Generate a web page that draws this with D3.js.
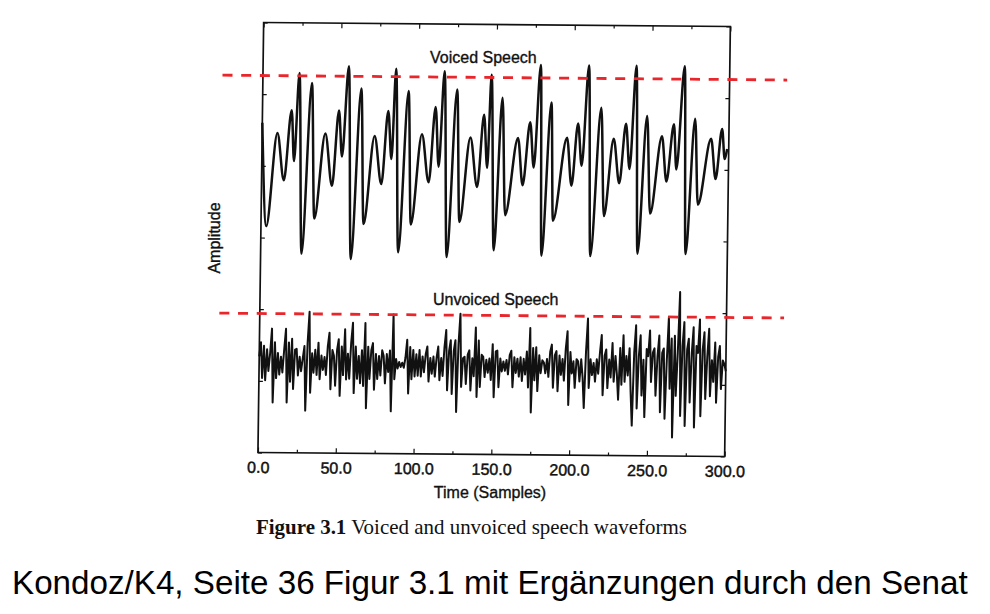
<!DOCTYPE html>
<html><head><meta charset="utf-8">
<script src="https://cdn.jsdelivr.net/npm/d3@7"></script>
<style>
html,body{margin:0;padding:0;background:#fff;}
svg{display:block;}
</style></head><body>
<svg id="chart" width="990" height="614"></svg>
<script>
// ---------- data ----------
const xTicks = [0, 50, 100, 150, 200, 250, 300];
const xMinorTicks = [25, 75, 125, 175, 225, 275];
const yTicks = [0, 100, 200, 300, 400, 500, 600];
const seriesNames = ["Voiced Speech", "Unvoiced Speech"];
const seriesOffsets = [411, 124];           // baseline of each trace (amplitude units)
const refLevels = [115, 70];                // red dashed level above each baseline
const refExtent = [-26, 337];               // samples covered by the red lines

// voiced speech: turning points (sample, amplitude)
const voicedSamples = [
  0, 3.4, 9.8, 14.3, 18.8, 20.7,
  23.5, 26.3, 31.6, 34.2, 40.6, 45.3, 49.2, 51.5,
  55.2, 58.0, 63.4, 65.9, 72.3, 77.0, 80.9, 83.3,
  85.6, 88.4, 93.8, 96.3, 102.7, 107.4, 111.3, 113.7,
  116.8, 119.6, 125.0, 127.5, 133.9, 138.6, 142.5, 144.9,
  147.0, 149.8, 154.2, 156.8, 164.5, 167.8, 172.2, 174.8,
  178.6, 180.5, 185.7, 187.6, 196.0, 199.2, 203.0, 205.6,
  209.6, 211.9, 217.8, 220.3, 226.0, 229.9, 233.8, 236.4,
  240.1, 242.2, 247.3, 250.0, 257.0, 260.2, 264.6, 266.5,
  271.1, 273.1, 278.2, 280.6, 288.6, 291.8, 295.6, 297.5, 299
];
const voicedValues = [
  49, -95, 35, -31, 67, -4,
  119, -133, 105, -84, 35, -38, 67, 3,
  129, -140, 98, -91, 32, -35, 67, 0,
  126, -130, 95, -91, 35, -32, 73, -10,
  123, -136, 98, -87, 31, -38, 63, -11,
  119, -126, 87, -77, 31, -35, 53, -10,
  133, -133, 81, -84, 32, -35, 52, -7,
  133, -133, 74, -77, 31, -31, 52, -11,
  133, -129, 63, -73, 35, -28, 52, -11,
  133, -129, 60, -60, 32, -24, 46, 4, 18
];

// unvoiced speech: one value per sample, 0..300
const unvoicedValues = [
  10, 30, -20, 25, -23, 20, -10, 15, 49, -54,
  30, -20, 15, -15, 10, -12, 20, 49, -54, 30,
  -25, 35, -35, 20, 21, -16, 10, -10, 8, 25,
  -65, 30, 73, -40, 15, -12, 20, -15, 30, -21,
  12, -8, 10, -15, 25, 44, -35, 20, 12, -30,
  20, 35, -44, 25, -15, 49, -21, 15, -20, 30,
  58, -40, 25, -20, 12, -26, 20, -30, 58, -61,
  25, -20, 20, 30, -35, 15, -20, 12, -15, 20,
  12, -26, 15, -10, 20, -65, 70, -20, 8, -5,
  4, -3, 3, -4, 10, 35, -40, 25, -20, 21,
  -16, 15, -15, 21, -16, 12, -10, 15, 26, -23,
  10, -12, 12, -16, 10, 26, -21, 10, -15, 25,
  49, -35, 20, 35, -40, 20, 35, -65, 30, 72,
  -30, 10, 12, -26, 15, 21, -35, 10, -15, 53,
  -44, 35, -30, 15, 12, -16, 8, -10, 10, -20,
  30, -44, 20, 21, -30, 10, -8, 6, -7, 8,
  -12, 15, 21, -30, 12, -10, 10, -15, 12, -21,
  10, -12, 20, -30, 53, -65, 25, -20, 26, -35,
  15, -10, 8, 5, -10, 10, -15, 20, 30, -30,
  15, 21, -35, 15, -12, 10, -20, 25, 49, -54,
  20, -10, 7, -30, 10, 7, -21, 10, -15, -58,
  20, 67, -30, 10, -12, 5, -21, 10, -10, 20,
  44, -40, 15, 24, -30, 10, -15, 33, -21, 15,
  -10, -46, 26, -25, 44, -21, 15, -12, 26, -35,
  -82, 20, 58, -58, 15, 44, -40, 10, -70, 25,
  15, 51, -21, 20, 26, -40, 15, 44, -63, 20,
  26, -72, 10, 70, -30, 40, -98, 44, -40, 20,
  105, -68, 30, 63, -82, 25, 40, -49, 20, 56,
  -84, 30, 20, 67, -68, 25, 49, -44, 15, 54,
  -40, 10, -20, 35, -49, 15, 30, -30, 10, 5,
  -5
];

const xLabel = "Time (Samples)";
const yLabel = "Amplitude";
const captionBold = "Figure 3.1";
const captionText = " Voiced and unvoiced speech waveforms";
const footnote = "Kondoz/K4, Seite 36 Figur 3.1 mit Ergänzungen durch den Senat";

// ---------- drawing ----------
const svg = d3.select("#chart");
const W = 466.7, H = 430;
const sans = "'Liberation Sans', Arial, Helvetica, sans-serif";
const serif = "'Liberation Serif', 'Times New Roman', serif";

// scanned page is slightly skewed
const g = svg.append("g")
  .attr("transform", `matrix(1,${4 / W},${-5.7 / H},1,263.65,22.5)`);

const x = d3.scaleLinear().domain([0, 300]).range([0, W]);
const y = d3.scaleLinear().domain([0, 600]).range([H, 0]);

function styleAxis(sel) {
  sel.select(".domain").remove();
  sel.selectAll(".tick line").attr("stroke", "#111").attr("stroke-width", 1.2);
}

// bottom axis with labels
g.append("g").attr("transform", `translate(0,${H})`)
  .call(d3.axisBottom(x).tickValues(xTicks).tickFormat(d3.format(".1f"))
    .tickSizeInner(-5).tickSizeOuter(0).tickPadding(9))
  .call(styleAxis)
  .call(s => s.selectAll("text").attr("font-family", sans).attr("font-size", 16)
    .attr("fill", "#111").attr("stroke", "#111").attr("stroke-width", 0.45));
g.append("g").attr("transform", `translate(0,${H})`)
  .call(d3.axisBottom(x).tickValues(xMinorTicks).tickFormat("")
    .tickSizeInner(-3).tickSizeOuter(0))
  .call(styleAxis);
// top axis ticks
g.append("g")
  .call(d3.axisTop(x).tickValues(xTicks).tickFormat("").tickSizeInner(-5).tickSizeOuter(0))
  .call(styleAxis);
g.append("g")
  .call(d3.axisTop(x).tickValues(xMinorTicks).tickFormat("").tickSizeInner(-3).tickSizeOuter(0))
  .call(styleAxis);
// left/right ticks
g.append("g")
  .call(d3.axisLeft(y).tickValues(yTicks).tickFormat("").tickSizeInner(-4).tickSizeOuter(0))
  .call(styleAxis);
g.append("g").attr("transform", `translate(${W},0)`)
  .call(d3.axisRight(y).tickValues(yTicks).tickFormat("").tickSizeInner(-4).tickSizeOuter(0))
  .call(styleAxis);

// frame
g.append("rect").attr("x", 0).attr("y", 0).attr("width", W).attr("height", H)
  .attr("fill", "none").attr("stroke", "#111").attr("stroke-width", 1.7);

// voiced trace
const voicedData = voicedSamples.map((s, i) => [s, voicedValues[i]]);
g.append("path").datum(voicedData)
  .attr("fill", "none").attr("stroke", "#111").attr("stroke-width", 2.5)
  .attr("stroke-linejoin", "round")
  .attr("d", d3.line().x(d => x(d[0])).y(d => y(seriesOffsets[0] + d[1])).curve(d3.curveMonotoneX));

// unvoiced trace
g.append("path").datum(unvoicedValues)
  .attr("fill", "none").attr("stroke", "#111").attr("stroke-width", 2)
  .attr("stroke-linejoin", "round")
  .attr("d", d3.line().x((d, i) => x(i)).y(d => y(seriesOffsets[1] + d)));

// red dashed reference levels
refLevels.forEach((lv, k) => {
  g.append("line")
    .attr("x1", x(refExtent[0])).attr("x2", x(refExtent[1]))
    .attr("y1", y(seriesOffsets[k] + lv)).attr("y2", y(seriesOffsets[k] + lv))
    .attr("stroke", "#e8262b").attr("stroke-width", 2.8)
    .attr("stroke-dasharray", "10,8.7");
});

// series titles
svg.append("text").attr("x", 430).attr("y", 63).text(seriesNames[0])
  .attr("font-family", sans).attr("font-size", 16).attr("fill", "#111")
  .attr("stroke", "#111").attr("stroke-width", 0.35);
svg.append("text").attr("x", 433).attr("y", 305).text(seriesNames[1])
  .attr("font-family", sans).attr("font-size", 16).attr("fill", "#111")
  .attr("stroke", "#111").attr("stroke-width", 0.35);

// axis titles
svg.append("text").attr("x", 490).attr("y", 498).attr("text-anchor", "middle")
  .text(xLabel).attr("font-family", sans).attr("font-size", 16).attr("fill", "#111")
  .attr("stroke", "#111").attr("stroke-width", 0.35);
svg.append("text").attr("transform", "translate(220,238) rotate(-90)")
  .attr("text-anchor", "middle").text(yLabel)
  .attr("font-family", sans).attr("font-size", 16).attr("fill", "#111")
  .attr("stroke", "#111").attr("stroke-width", 0.35);

function fitWidth(sel, target) {
  const w = sel.node().getComputedTextLength();
  const fs = parseFloat(sel.attr("font-size"));
  if (w > 0) sel.attr("font-size", fs * target / w);
}

// caption
const cap = svg.append("text").attr("x", 256).attr("y", 534)
  .attr("font-family", serif).attr("font-size", 17).attr("fill", "#111");
cap.append("tspan").attr("font-weight", "bold").text(captionBold);
cap.append("tspan").text(captionText);
fitWidth(cap, 431);

// footnote
const foot = svg.append("text").attr("x", 12).attr("y", 594)
  .attr("font-family", sans).attr("font-size", 28).attr("fill", "#000")
  .text(footnote);
fitWidth(foot, 956);
</script>
</body></html>
